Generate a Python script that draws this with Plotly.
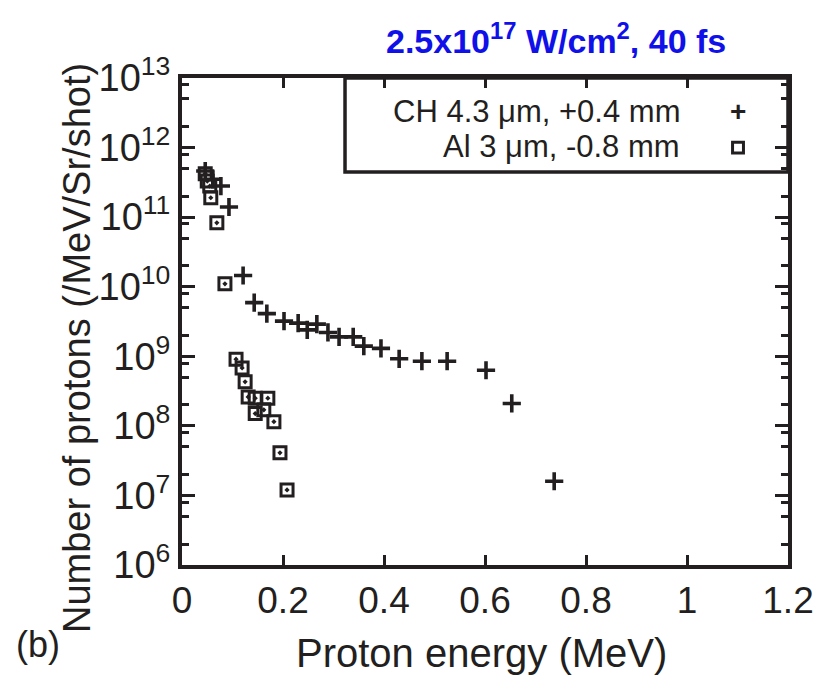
import plotly.graph_objects as go

# CH 4.3 um, +0.4 mm (crosses)
ch_energy = [0.046, 0.061, 0.077, 0.093, 0.121, 0.143, 0.168, 0.202, 0.230, 0.248, 0.267,
             0.289, 0.311, 0.339, 0.360, 0.394, 0.430, 0.475, 0.525, 0.602, 0.653, 0.737]
ch_counts = [4.6e11, 3.5e11, 2.8e11, 1.4e11, 1.45e10, 5.9e9, 4.1e9, 3.2e9, 3.0e9, 2.4e9, 2.9e9,
             2.2e9, 1.9e9, 1.9e9, 1.4e9, 1.3e9, 9.2e8, 8.5e8, 8.5e8, 6.3e8, 2.1e8, 1.6e7]

# Al 3 um, -0.8 mm (squares)
al_energy = [0.046, 0.050, 0.055, 0.057, 0.069, 0.085, 0.107, 0.119, 0.125, 0.131, 0.145,
             0.170, 0.145, 0.162, 0.182, 0.194, 0.208]
al_counts = [4.2e11, 3.3e11, 2.8e11, 1.9e11, 8.3e10, 1.1e10, 9.1e8, 6.8e8, 4.3e8, 2.6e8, 2.5e8,
             2.5e8, 1.5e8, 1.7e8, 1.15e8, 4.1e7, 1.2e7]

y_exponents = [6, 7, 8, 9, 10, 11, 12, 13]
x_ticks = [0, 0.2, 0.4, 0.6, 0.8, 1.0, 1.2]
x_ticktext = ["0", "0.2", "0.4", "0.6", "0.8", "1", "1.2"]

legend_labels = ["CH 4.3 \u03bcm, +0.4 mm", "Al 3 \u03bcm, -0.8 mm"]
title_text = "2.5x10<sup>17</sup> W/cm<sup>2</sup>, 40 fs"

INK = "#231f20"
FONT = "Liberation Sans, Arial, Helvetica, sans-serif"

fig = go.Figure()
fig.add_trace(go.Scatter(
    x=ch_energy, y=ch_counts, mode="markers", name=legend_labels[0],
    marker=dict(symbol="cross-thin", size=13, line=dict(color=INK, width=3.6)),
    showlegend=False))
fig.add_trace(go.Scatter(
    x=al_energy, y=al_counts, mode="markers", name=legend_labels[1],
    marker=dict(symbol="square-open-dot", size=12, color=INK, line=dict(color=INK, width=3)),
    showlegend=False))

minor_vals = []
for e in y_exponents[:-1]:
    for m in (2, 5, 8):
        minor_vals.append(m * 10 ** e)

fig.update_xaxes(
    range=[0, 1.2], tickvals=x_ticks, ticktext=x_ticktext,
    showgrid=False, zeroline=False, showline=True, linecolor=INK, linewidth=4,
    mirror="ticks", ticks="inside", ticklen=10, tickwidth=3, tickcolor=INK,
    tickfont=dict(family=FONT, size=37, color=INK))
fig.update_yaxes(
    type="log", range=[6, 13],
    tickvals=[10 ** e for e in y_exponents],
    ticktext=[f"10<sup>{e}</sup>" for e in y_exponents],
    showgrid=False, zeroline=False, showline=True, linecolor=INK, linewidth=4,
    mirror="ticks", ticks="inside", ticklen=13, tickwidth=3, tickcolor=INK,
    tickfont=dict(family=FONT, size=38, color=INK),
    minor=dict(tickvals=minor_vals, ticks="inside", ticklen=7, tickwidth=3,
               tickcolor=INK, showgrid=False))

# legend box
fig.add_shape(type="rect", xref="paper", yref="paper", x0=0.269, x1=1.0, y0=0.807, y1=1.0,
              line=dict(color=INK, width=3.5), fillcolor="rgba(0,0,0,0)")
# legend square symbol
fig.add_shape(type="rect", xref="paper", yref="paper", x0=0.9085, x1=0.9265, y0=0.846, y1=0.868,
              line=dict(color=INK, width=3), fillcolor="white")

annotations = [
    dict(text=legend_labels[0], x=0.825, y=0.932, xanchor="right", yanchor="middle",
         font=dict(family=FONT, size=31, color=INK)),
    dict(text=legend_labels[1], x=0.825, y=0.860, xanchor="right", yanchor="middle",
         font=dict(family=FONT, size=31, color=INK)),
    dict(text="<b>+</b>", x=0.917, y=0.932, xanchor="center", yanchor="middle",
         font=dict(family=FONT, size=28, color=INK)),
    dict(text=f"<b>{title_text}</b>", x=0.617, y=1.082, xanchor="center", yanchor="middle",
         font=dict(family=FONT, size=34, color="#1010e8")),
    dict(text="Proton energy (MeV)", x=0.495, y=-0.181, xanchor="center", yanchor="middle",
         font=dict(family=FONT, size=40, color=INK)),
    dict(text="Number of protons (/MeV/Sr/shot)", x=-0.172, y=0.445, textangle=-90,
         xanchor="center", yanchor="middle",
         font=dict(family=FONT, size=38, color=INK)),
    dict(text="(b)", x=-0.237, y=-0.164, xanchor="center", yanchor="middle",
         font=dict(family=FONT, size=36, color=INK)),
]
for a in annotations:
    a.update(xref="paper", yref="paper", showarrow=False)
fig.update_layout(
    annotations=annotations,
    width=834, height=675,
    margin=dict(l=182, r=46, t=78, b=110),
    paper_bgcolor="white", plot_bgcolor="white",
    font=dict(family=FONT, color=INK),
)

fig.write_html("out.html")
